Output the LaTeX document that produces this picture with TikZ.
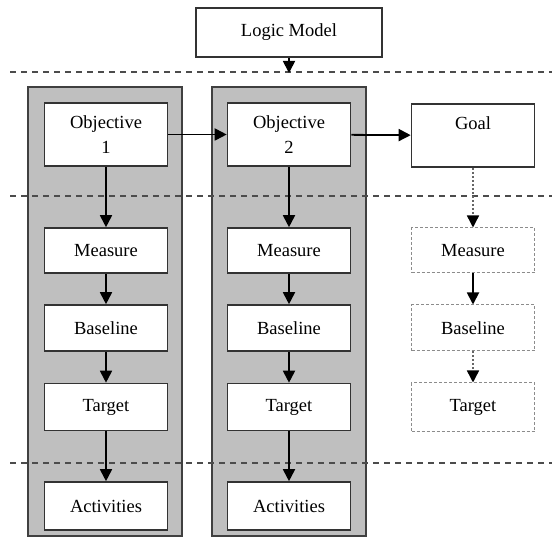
\documentclass[tikz,border=0pt]{standalone}
\usepackage{fontspec}
\setmainfont{Liberation Serif}
\usetikzlibrary{arrows.meta}
\begin{document}
\begin{tikzpicture}[x=1pt,y=-1pt,
  box/.style={draw=black!80, line width=1.6pt, fill=white, minimum width=123pt,
    inner sep=0pt, align=center, font=\fontsize{18.5}{25}\selectfont},
  ghost/.style={box, draw=black!45, line width=1pt, dash pattern=on 3pt off 2pt},
  panel/.style={draw=black!75, line width=1.6pt, fill=black!25},
  sep/.style={draw=black!70, line width=1.6pt, dash pattern=on 6pt off 5pt},
  link/.style={draw=black, line width=1.8pt, -{Triangle[width=12pt,length=12pt,color=black]}},
  faint/.style={link, draw=black!60, line width=1.4pt, dash pattern=on 2pt off 2pt}]
  % canvas
  \fill[white] (0,0) rectangle (552,537);
  \useasboundingbox (0,0) rectangle (552,537);

  % grey column panels
  \draw[panel] (28,87) rectangle (182,536);
  \draw[panel] (212,87) rectangle (366,536);

  % level separators
  \draw[sep] (10,72) -- (552,72);
  \draw[sep] (10,196) -- (552,196);
  \draw[sep] (10,463) -- (552,463);

  % top
  \node[box, minimum width=186pt, minimum height=49pt] (lm) at (289,32.5) {Logic Model};

  % column 1
  \node[box, minimum height=63pt] (o1) at (106,134.5) {Objective\\1};
  \node[box, minimum height=45pt] (m1) at (106,250.5) {Measure};
  \node[box, minimum height=46pt] (b1) at (106,328) {Baseline};
  \node[box, minimum height=47pt] (t1) at (106,407) {Target};
  \node[box, minimum height=48pt] (a1) at (106,506) {Activities};

  % column 2
  \node[box, minimum height=63pt] (o2) at (289,134.5) {Objective\\2};
  \node[box, minimum height=45pt] (m2) at (289,250.5) {Measure};
  \node[box, minimum height=46pt] (b2) at (289,328) {Baseline};
  \node[box, minimum height=47pt] (t2) at (289,407) {Target};
  \node[box, minimum height=48pt] (a2) at (289,506) {Activities};

  % goal column
  \node[box, minimum height=63pt] (g) at (473,135.5) {Goal\\\mbox{}};
  \node[ghost, minimum height=45pt] (m3) at (473,250.5) {Measure};
  \node[ghost, minimum height=46pt] (b3) at (473,328) {Baseline};
  \node[ghost, minimum height=49pt] (t3) at (473,407.5) {Target};

  % connectors
  \coordinate (lmend) at (289,73);
  \draw[link] (lm) -- (lmend);
  \draw[link] (o1) -- (o2);
  \draw[link] (o2) -- (g);
  \foreach \c in {1,2}{
    \draw[link] (o\c) -- (m\c);
    \draw[link] (m\c) -- (b\c);
    \draw[link] (b\c) -- (t\c);
    \draw[link] (t\c) -- (a\c);
  }
  \draw[faint] (g) -- (m3);
  \draw[link] (m3) -- (b3);
  \draw[faint] (b3) -- (t3);
\end{tikzpicture}
\end{document}
